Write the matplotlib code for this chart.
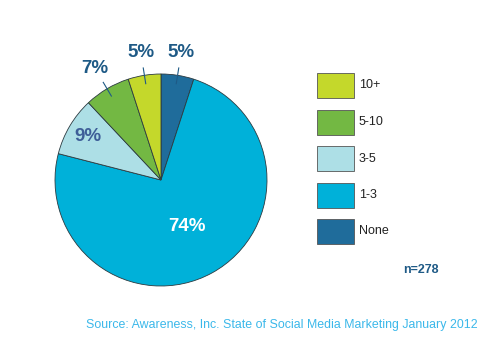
import numpy as np
import matplotlib

matplotlib.use("Agg")
import matplotlib.pyplot as plt
from matplotlib.patches import Rectangle

plt.rcParams["font.family"] = ["Liberation Sans", "DejaVu Sans"]

# data (clockwise from 12 o'clock)
CATEGORIES = ["None", "1-3", "3-5", "5-10", "10+"]
SHARES = [5, 74, 9, 7, 5]
COLORS = ["#1F6C9B", "#00B1D9", "#ADDFE6", "#73B843", "#C4D82B"]
LEGEND_ORDER = ["10+", "5-10", "3-5", "1-3", "None"]
N_TEXT = "n=278"
SOURCE = "Source: Awareness, Inc. State of Social Media Marketing January 2012"

W, H = 480, 358
LABEL_DARK = "#1E5A86"

fig = plt.figure(figsize=(W / 100, H / 100), dpi=100)
ax = fig.add_axes([0, 0, 1, 1])

cx, cy, r = 161, 178, 106
wedges, _ = ax.pie(SHARES, colors=COLORS, startangle=90, counterclock=False,
                   center=(cx, cy), radius=r, frame=True,
                   wedgeprops=dict(edgecolor="#2b3a40", linewidth=0.6))
ax.set_xlim(0, W)
ax.set_ylim(0, H)
ax.set_aspect("equal")
ax.axis("off")

for w, cat, v in zip(wedges, CATEGORIES, SHARES):
    mid = np.deg2rad((w.theta1 + w.theta2) / 2)
    c, s = np.cos(mid), np.sin(mid)
    txt = f"{v}%"
    if cat == "1-3":
        ax.text(cx + 0.5 * r * c, cy + 0.5 * r * s, txt, ha="center",
                va="center", color="white", fontsize=13.5, fontweight="bold")
    elif cat == "3-5":
        ax.text(cx + 0.8 * r * c, cy + 0.8 * r * s, txt, ha="center",
                va="center", color="#3E5E98", fontsize=13.5, fontweight="bold")
    else:
        ax.plot([cx + 0.92 * r * c, cx + 1.07 * r * c],
                [cy + 0.92 * r * s, cy + 1.07 * r * s],
                color=LABEL_DARK, lw=0.8)
        ax.text(cx + 1.22 * r * c, cy + 1.22 * r * s, txt, ha="center",
                va="center", color=LABEL_DARK, fontsize=13.5, fontweight="bold")

# legend boxes
color_of = dict(zip(CATEGORIES, COLORS))
for i, cat in enumerate(LEGEND_ORDER):
    top = 73 + i * 36.5
    ax.add_patch(Rectangle((317, H - top - 25), 37, 25,
                           facecolor=color_of[cat], edgecolor="#555555",
                           linewidth=0.6))
    ax.text(359, H - top - 12.5, cat, ha="left", va="center",
            fontsize=9, color="#222222")

ax.text(421, H - 270, N_TEXT, ha="center", va="center", fontsize=9,
        fontweight="bold", color=LABEL_DARK)
ax.text(478, H - 325, SOURCE, ha="right", va="center", fontsize=8.9,
        color="#3BB8EA")

fig.savefig("out.png", dpi=100)
